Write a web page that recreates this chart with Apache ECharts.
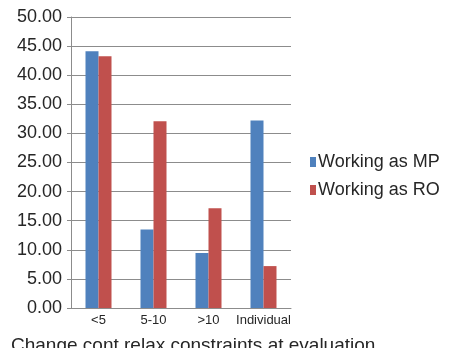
<!DOCTYPE html>
<html>
<head>
<meta charset="utf-8">
<script src="https://cdn.jsdelivr.net/npm/echarts@6/dist/echarts.min.js"></script>
<style>
  html, body { margin: 0; padding: 0; background: #fff; }
  #chart { width: 469px; height: 348px; }
</style>
</head>
<body>
<div id="chart"></div>
<script>
// Share of respondents by period, per working role
const categories = ['<5', '5-10', '>10', 'Individual'];
const workingAsMP = [44.1, 13.5, 9.45, 32.2];
const workingAsRO = [43.25, 32.1, 17.15, 7.2];
const yTicks = { min: 0, max: 50, interval: 5 };
const axisTitle = 'Change cont relax constraints at evaluation';

const font = '"Liberation Sans", Arial, Helvetica, sans-serif';
const textColor = '#262626';
const lineColor = '#8c8c8c';

const chart = echarts.init(document.getElementById('chart'), null, { renderer: 'canvas' });
chart.setOption({
  animation: false,
  backgroundColor: '#fff',
  grid: { left: 71, right: 178, top: 17, bottom: 40, containLabel: false },
  legend: {
    orient: 'vertical',
    left: 305,
    top: 148,
    itemWidth: 6,
    itemHeight: 10,
    itemGap: 10,
    icon: 'rect',
    textStyle: { fontFamily: font, fontSize: 18, color: textColor, lineHeight: 18, padding: [0, 0, 0, -3] },
    data: ['Working as MP', 'Working as RO']
  },
  xAxis: {
    type: 'category',
    data: categories,
    axisLine: { lineStyle: { color: lineColor, width: 1 } },
    axisTick: { show: false },
    axisLabel: { fontFamily: font, fontSize: 13, color: textColor, margin: 6, interval: 0 }
  },
  yAxis: {
    type: 'value',
    min: yTicks.min,
    max: yTicks.max,
    interval: yTicks.interval,
    axisLine: { show: true, lineStyle: { color: lineColor, width: 1 } },
    axisTick: { show: true, length: 4, lineStyle: { color: lineColor } },
    splitLine: { lineStyle: { color: lineColor, width: 1 } },
    axisLabel: {
      fontFamily: font, fontSize: 18, color: textColor, margin: 9,
      formatter: v => v.toFixed(2)
    }
  },
  graphic: [{
    type: 'text',
    left: 11,
    top: 336,
    style: { text: axisTitle, font: '19px ' + font, fill: textColor }
  }],
  series: [
    {
      name: 'Working as MP', type: 'bar', data: workingAsMP,
      barWidth: 13, barGap: '0%',
      itemStyle: { color: '#4f81bd' }
    },
    {
      name: 'Working as RO', type: 'bar', data: workingAsRO,
      barWidth: 13, barGap: '0%',
      itemStyle: { color: '#c0504d' }
    }
  ]
});
</script>
</body>
</html>
